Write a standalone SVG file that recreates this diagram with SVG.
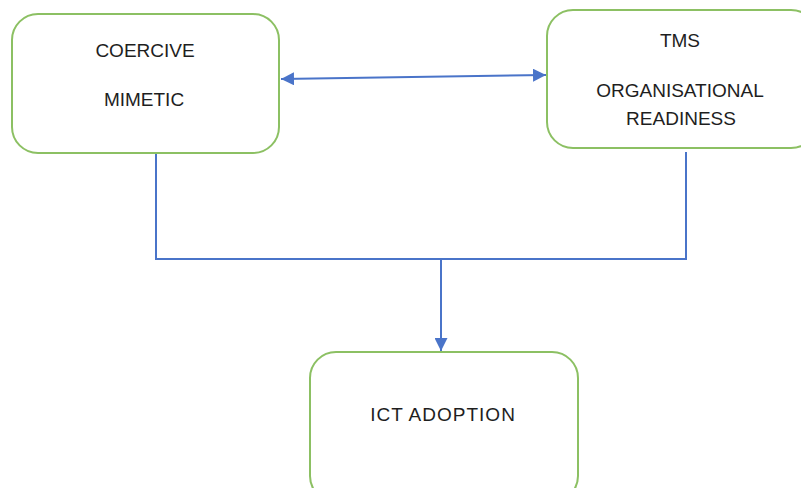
<svg xmlns="http://www.w3.org/2000/svg" width="801" height="488" viewBox="0 0 801 488">
<style>
.box{fill:#fff;stroke:#8cc063;stroke-width:2}
.t{font-family:"Liberation Sans",Arial,sans-serif;font-size:19px;fill:#1e1e1e;text-anchor:middle}
.c{fill:none;stroke:#4a74c9;stroke-width:2}
</style>
<defs>
<marker id="ah" viewBox="0 0 10 10" refX="10" refY="5" markerWidth="6.5" markerHeight="6.5" markerUnits="strokeWidth" orient="auto-start-reverse">
<path d="M0,0 L10,5 L0,10 z" fill="#4a74c9"/>
</marker>
</defs>
<rect width="801" height="488" fill="#fff"/>
<g id="node-coercive">
<rect class="box" x="12" y="14" width="267" height="139" rx="26"/>
<text class="t" x="145" y="57">COERCIVE</text>
<text class="t" x="144" y="106">MIMETIC</text>
</g>
<g id="node-tms">
<rect class="box" x="547" y="10" width="270" height="138" rx="26"/>
<text class="t" x="680" y="47">TMS</text>
<text class="t" x="680" y="97">ORGANISATIONAL</text>
<text class="t" x="681" y="125">READINESS</text>
</g>
<g id="node-ict">
<rect class="box" x="310" y="352" width="268" height="150" rx="26"/>
<text class="t" x="443" y="421" letter-spacing="1">ICT ADOPTION</text>
</g>
<g id="connectors">
<line class="c" x1="281" y1="79" x2="546" y2="75" marker-start="url(#ah)" marker-end="url(#ah)"/>
<polyline class="c" points="156,154 156,259 686,259 686,152"/>
<line class="c" x1="441" y1="259" x2="441" y2="351" marker-end="url(#ah)"/>
</g>
</svg>
